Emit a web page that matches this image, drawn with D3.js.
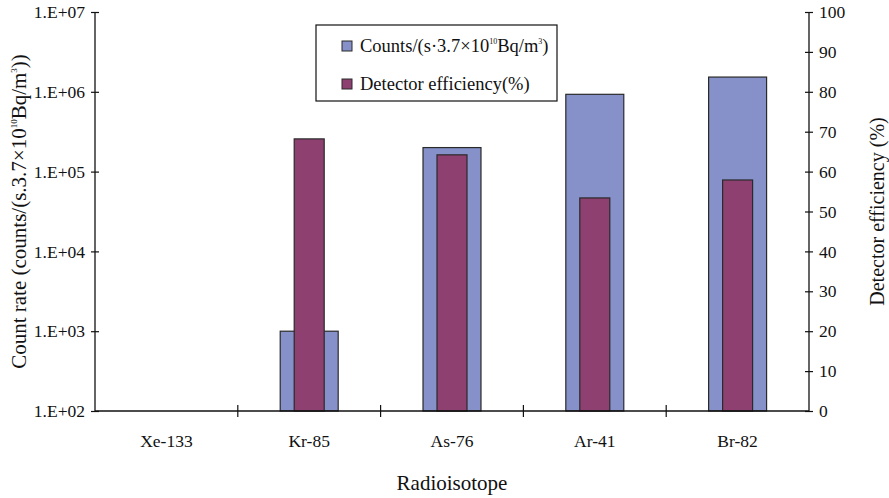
<!DOCTYPE html>
<html>
<head>
<meta charset="utf-8">
<script src="https://cdn.jsdelivr.net/npm/d3@7"></script>
<style>
  body { margin: 0; background: #fff; }
  text { font-family: "Liberation Serif", "Times New Roman", serif; fill: #111; }
</style>
</head>
<body>
<div id="chart"></div>
<script>
const isotopes = ["Xe-133", "Kr-85", "As-76", "Ar-41", "Br-82"];
// count rate, counts/(s*3.7e10 Bq/m3); null = no bar
const counts = [null, 1.0e3, 2.0e5, 9.3e5, 1.53e6];
// detector efficiency, %
const efficiency = [null, 68.2, 64.2, 53.4, 57.9];
const logTicks = [1e2, 1e3, 1e4, 1e5, 1e6, 1e7];
const pctTicks = [0, 10, 20, 30, 40, 50, 60, 70, 80, 90, 100];

const width = 889, height = 498;
const margin = { top: 12, right: 80, bottom: 87, left: 95 };
const blue = "#8591c8", purple = "#8e4070", edge = "#2a2a2a";

const svg = d3.select("#chart").append("svg")
  .attr("width", width).attr("height", height);

const x = d3.scaleBand().domain(isotopes).range([margin.left, width - margin.right]);
const yL = d3.scaleLog().domain([1e2, 1e7]).range([height - margin.bottom, margin.top]);
const yR = d3.scaleLinear().domain([0, 100]).range([height - margin.bottom, margin.top]);

const data = isotopes.map((name, i) => ({ name, count: counts[i], eff: efficiency[i] }));

const wideW = x.bandwidth() * 0.406, narrowW = x.bandwidth() * 0.21;

svg.append("g").selectAll("rect").data(data.filter(d => d.count != null)).enter().append("rect")
  .attr("x", d => x(d.name) + (x.bandwidth() - wideW) / 2)
  .attr("y", d => yL(d.count))
  .attr("width", wideW)
  .attr("height", d => yL(1e2) - yL(d.count))
  .attr("fill", blue).attr("stroke", edge).attr("stroke-width", 1.2);

svg.append("g").selectAll("rect").data(data.filter(d => d.eff != null)).enter().append("rect")
  .attr("x", d => x(d.name) + (x.bandwidth() - narrowW) / 2)
  .attr("y", d => yR(d.eff))
  .attr("width", narrowW)
  .attr("height", d => yR(0) - yR(d.eff))
  .attr("fill", purple).attr("stroke", edge).attr("stroke-width", 1.2);

// axes
const fmtE = v => "1.E+" + String(Math.round(Math.log10(v))).padStart(2, "0");
const left = svg.append("g").attr("transform", `translate(${margin.left},0)`)
  .call(d3.axisLeft(yL).tickValues(logTicks).tickFormat(fmtE).tickSize(4).tickPadding(6));
const right = svg.append("g").attr("transform", `translate(${width - margin.right},0)`)
  .call(d3.axisRight(yR).tickValues(pctTicks).tickSize(4).tickPadding(6));
const bottom = svg.append("g").attr("transform", `translate(0,${height - margin.bottom})`)
  .call(d3.axisBottom(x).tickSize(0).tickPadding(24));

[left, right, bottom].forEach(g => {
  g.select(".domain").attr("stroke", "#111").attr("stroke-width", 1.3);
  g.selectAll("text").style("font-family", "Liberation Serif, serif").style("font-size", "17.5px").attr("fill", "#111");
  g.selectAll(".tick line").attr("stroke", "#111").attr("stroke-width", 1.2);
});
left.select(".domain").attr("d", `M0,${margin.top}V${height - margin.bottom}`);
right.select(".domain").attr("d", `M0,${margin.top}V${height - margin.bottom}`);
bottom.select(".domain").attr("d", `M${margin.left},0H${width - margin.right}`);
left.selectAll(".tick line").attr("x1", 4);
right.selectAll(".tick line").attr("x1", -4);

// category boundary ticks on x axis
bottom.selectAll(".sep").data(isotopes.slice(1)).enter().append("line")
  .attr("x1", d => x(d)).attr("x2", d => x(d)).attr("y1", -6).attr("y2", 6)
  .attr("stroke", "#111").attr("stroke-width", 1.2);

// axis titles
const midY = (margin.top + height - margin.bottom) / 2;
const lt = svg.append("text")
  .attr("transform", `translate(26,${midY}) rotate(-90)`)
  .attr("text-anchor", "middle").style("font-size", "21px");
lt.append("tspan").text("Count rate (counts/(s.3.7×10");
lt.append("tspan").text("10").style("font-size", "9px").attr("dy", -9);
lt.append("tspan").text("Bq/m").attr("dy", 9);
lt.append("tspan").text("3").style("font-size", "9px").attr("dy", -9);
lt.append("tspan").text("))").attr("dy", 9);

svg.append("text")
  .attr("transform", `translate(877,${midY}) rotate(-90)`)
  .attr("text-anchor", "middle").attr("dy", "0.35em").style("font-size", "20px")
  .text("Detector efficiency (%)");

svg.append("text")
  .attr("x", (margin.left + width - margin.right) / 2).attr("y", 490)
  .attr("text-anchor", "middle").style("font-size", "21px")
  .text("Radioisotope");

// legend
const lg = svg.append("g").attr("transform", "translate(316,25)");
lg.append("rect").attr("width", 241).attr("height", 76)
  .attr("fill", "#fff").attr("stroke", "#111").attr("stroke-width", 1.2);
const items = [{ c: blue, y: 21 }, { c: purple, y: 59 }];
items.forEach(it => {
  lg.append("rect").attr("x", 26).attr("y", it.y - 5).attr("width", 10).attr("height", 10)
    .attr("fill", it.c).attr("stroke", edge).attr("stroke-width", 1);
});
const t1 = lg.append("text").attr("x", 44).attr("y", 21).attr("dy", "0.35em").style("font-size", "18.5px");
t1.append("tspan").text("Counts/(s·3.7×10");
t1.append("tspan").text("10").style("font-size", "8px").attr("dy", -8);
t1.append("tspan").text("Bq/m").attr("dy", 8);
t1.append("tspan").text("3").style("font-size", "8px").attr("dy", -8);
t1.append("tspan").text(")").attr("dy", 8);
lg.append("text").attr("x", 44).attr("y", 59).attr("dy", "0.35em").style("font-size", "18.5px")
  .text("Detector efficiency(%)");
</script>
</body>
</html>
